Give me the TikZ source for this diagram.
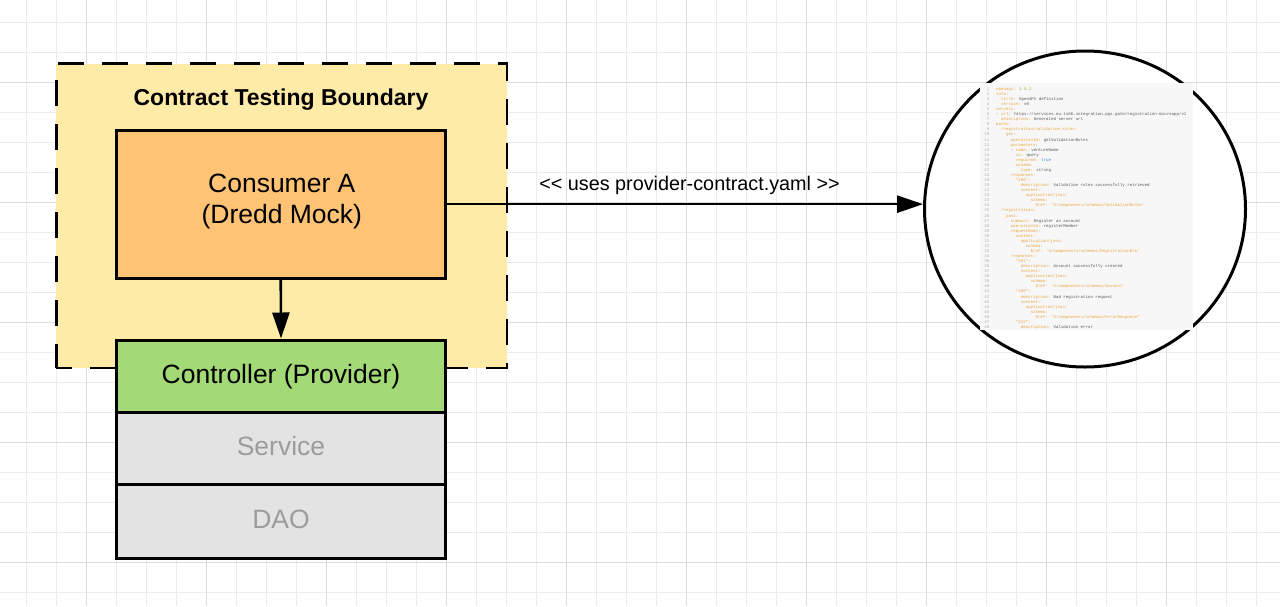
\documentclass[tikz,border=0pt]{standalone}
\usepackage{fontspec}
\setmainfont{Liberation Sans}
\newfontfamily\yamlfont{Liberation Mono}
\usetikzlibrary{arrows.meta,shapes.geometric}
\definecolor{gridminor}{HTML}{EBEBEB}
\definecolor{gridmajor}{HTML}{DCDCDC}
\definecolor{boundaryfill}{HTML}{FFEBA8}
\definecolor{consumerfill}{HTML}{FFC376}
\definecolor{controllerfill}{HTML}{A3D977}
\definecolor{layerfill}{HTML}{E3E3E3}
\definecolor{layertext}{HTML}{9C9C9C}
\definecolor{panelbg}{HTML}{F7F7F7}
\definecolor{ykey}{HTML}{E9A23B}
\definecolor{yval}{HTML}{555555}
\definecolor{ylnum}{HTML}{ABABAB}
\definecolor{ynum}{HTML}{9AAB3A}
\definecolor{ybool}{HTML}{3D7BD9}
\newcommand\yk[1]{\textcolor{ykey}{#1}}
\newcommand\yv[1]{\textcolor{yval}{#1}}
\newcommand\yamlline[3]{%
  \node[yamlnum] (yn#1) at (989.5,{89+(#1-1)*5.064+1.4}) {#1};
  \node[yamlcode] (yc#1) at ({996+#2*2.46},{89+(#1-1)*5.064+1.4}) {#3};}
\begin{document}
\begin{tikzpicture}[x=1pt,y=-1pt,
  boundarybox/.style={draw=black, line width=2.8pt, fill=boundaryfill,
    dash pattern=on 26pt off 18pt, dash phase=10pt, inner sep=0pt},
  layerbox/.style={draw=black, line width=3pt, inner sep=0pt,
    minimum width=328.7pt, text height=19pt, text depth=5pt,
    font=\fontsize{26.5}{30}\selectfont},
  bigtext/.style={inner sep=0pt, font=\fontsize{26.5}{30}\selectfont},
  titletext/.style={inner sep=0pt, font=\fontsize{23}{27}\selectfont\bfseries},
  labeltext/.style={inner sep=0pt, font=\fontsize{19.8}{23}\selectfont},
  connector/.style={draw=black, line width=2.6pt,
    -{Triangle[length=26pt,width=17pt]}},
  yamlnum/.style={anchor=base east, inner sep=0pt, text=ylnum,
    font=\yamlfont\fontsize{4.1}{5}\selectfont},
  yamlcode/.style={anchor=base west, inner sep=0pt, text=yval,
    font=\yamlfont\fontsize{4.1}{5}\selectfont}]
\useasboundingbox (0,0) rectangle (1280,606);
\fill[white] (0,0) rectangle (1280,606);
% grid
\foreach \k in {0,...,41} \draw[gridminor, line width=1.1pt] ({26.5+30*\k},0) -- ({26.5+30*\k},606);
\foreach \k in {0,...,19} \draw[gridminor, line width=1.1pt] (0,{22.3+30*\k}) -- (1280,{22.3+30*\k});
\foreach \k in {0,...,9} \draw[gridmajor, line width=1.1pt] ({86.5+120*\k},0) -- ({86.5+120*\k},606);
\foreach \k in {0,...,4} \draw[gridmajor, line width=1.1pt] (0,{82.3+120*\k}) -- (1280,{82.3+120*\k});

% contract testing boundary
\node[boundarybox, minimum width=450.8pt, minimum height=304.2pt] (boundary) at (281.6,215.9) {};
\node[titletext, anchor=base] (boundarytitle) at (281,105) {Contract Testing Boundary};

% consumer
\node[draw=black, line width=3pt, fill=consumerfill, inner sep=0pt,
  minimum width=328.5pt, minimum height=148.3pt] (consumer) at (280.75,204.15) {};
\node[bigtext, anchor=base] (consumerline1) at (281.8,192.7) {Consumer A};
\node[bigtext, anchor=base] (consumerline2) at (281.8,223) {(Dredd Mock)};

% provider layers
\node[layerbox, fill=layerfill, text=layertext, minimum height=72pt] (service) at (281,448.7) {Service};
\node[layerbox, fill=layerfill, text=layertext, minimum height=74pt] (dao) at (281,521.7) {DAO};
\node[layerbox, fill=controllerfill, minimum height=72.7pt] (controller) at (281,376.35) {Controller (Provider)};

% contract document
\node[draw=black, line width=3pt, ellipse, inner sep=0pt, fill=white,
  minimum width=321pt, minimum height=316pt] (contract) at (1085,209) {};
\node[fill=panelbg, inner sep=0pt, minimum width=212.7pt, minimum height=246.7pt] (yamlpanel) at (1086.35,206.65) {};

\yamlline{1}{0}{\yk{openapi:} \textcolor{ynum}{3.0.1}}
\yamlline{2}{0}{\yk{info:}}
\yamlline{3}{2}{\yk{title:} OpenAPI definition}
\yamlline{4}{2}{\yk{version:} v0}
\yamlline{5}{0}{\yk{servers:}}
\yamlline{6}{0}{- \yk{url:} https://services.eu.ts06.integration.pgs.gate/registration-microapp/v1}
\yamlline{7}{2}{\yk{description:} Generated server url}
\yamlline{8}{0}{\yk{paths:}}
\yamlline{9}{2}{\yk{/registration/validation-rules:}}
\yamlline{10}{4}{\yk{get:}}
\yamlline{11}{6}{\yk{operationId:} getValidationRules}
\yamlline{12}{6}{\yk{parameters:}}
\yamlline{13}{6}{- \yk{name:} ventureName}
\yamlline{14}{8}{\yk{in:} query}
\yamlline{15}{8}{\yk{required:} \textcolor{ybool}{true}}
\yamlline{16}{8}{\yk{schema:}}
\yamlline{17}{10}{\yk{type:} string}
\yamlline{18}{6}{\yk{responses:}}
\yamlline{19}{8}{\yk{"200":}}
\yamlline{20}{10}{\yk{description:} Validation rules successfully retrieved}
\yamlline{21}{10}{\yk{content:}}
\yamlline{22}{12}{\yk{application/json:}}
\yamlline{23}{14}{\yk{schema:}}
\yamlline{24}{16}{\yk{\$ref:} \yk{'\#/components/schemas/ValidationRules'}}
\yamlline{25}{2}{\yk{/registration:}}
\yamlline{26}{4}{\yk{post:}}
\yamlline{27}{6}{\yk{summary:} Register an account}
\yamlline{28}{6}{\yk{operationId:} registerMember}
\yamlline{29}{6}{\yk{requestBody:}}
\yamlline{30}{8}{\yk{content:}}
\yamlline{31}{10}{\yk{application/json:}}
\yamlline{32}{12}{\yk{schema:}}
\yamlline{33}{14}{\yk{\$ref:} \yk{'\#/components/schemas/RegistrationDto'}}
\yamlline{34}{6}{\yk{responses:}}
\yamlline{35}{8}{\yk{"201":}}
\yamlline{36}{10}{\yk{description:} Account successfully created}
\yamlline{37}{10}{\yk{content:}}
\yamlline{38}{12}{\yk{application/json:}}
\yamlline{39}{14}{\yk{schema:}}
\yamlline{40}{16}{\yk{\$ref:} \yk{'\#/components/schemas/Account'}}
\yamlline{41}{8}{\yk{"400":}}
\yamlline{42}{10}{\yk{description:} Bad registration request}
\yamlline{43}{10}{\yk{content:}}
\yamlline{44}{12}{\yk{application/json:}}
\yamlline{45}{14}{\yk{schema:}}
\yamlline{46}{16}{\yk{\$ref:} \yk{'\#/components/schemas/ErrorResponse'}}
\yamlline{47}{8}{\yk{"422":}}
\yamlline{48}{10}{\yk{description:} Validation error}

% connectors
\draw[connector] (consumer.south) -- (controller.north);
\draw[connector] (consumer.east) -- (consumer.east -| contract.west)
  node[labeltext, pos=0.51, anchor=base, yshift=13.3pt] (usesLabel) {{<}{<} uses provider-contract.yaml {>}{>}};
\end{tikzpicture}
\end{document}
